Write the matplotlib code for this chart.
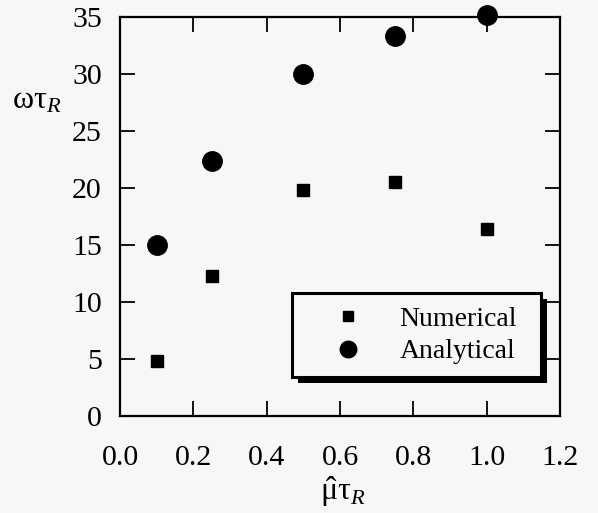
import numpy as np
import matplotlib.pyplot as plt
from matplotlib.patches import Rectangle
from matplotlib.transforms import IdentityTransform

plt.rcParams['font.family'] = ['Liberation Serif', 'DejaVu Serif']
plt.rcParams['mathtext.fontset'] = 'custom'
plt.rcParams['mathtext.rm'] = 'Liberation Serif'
plt.rcParams['mathtext.it'] = 'Liberation Serif:italic'

# data
mu_tau = [0.1, 0.25, 0.5, 0.75, 1.0]
numerical = [4.8, 12.3, 19.8, 20.5, 16.4]
analytical = [15.0, 22.4, 30.0, 33.3, 35.2]

x_ticks = [0.0, 0.2, 0.4, 0.6, 0.8, 1.0, 1.2]
y_ticks = [0, 5, 10, 15, 20, 25, 30, 35]

bg = '#f7f7f7'
fig = plt.figure(figsize=(5.98, 5.13), dpi=100, facecolor=bg)
ax = fig.add_axes([0.2007, 0.189, 0.7358, 0.778], facecolor=bg)

ax.plot(mu_tau, numerical, 's', color='black', markersize=8.5, label='Numerical', clip_on=False, zorder=3)
ax.plot(mu_tau, analytical, 'o', color='black', markersize=14, label='Analytical', clip_on=False, zorder=3)

ax.set_xlim(0, 1.2)
ax.set_ylim(0, 35)
ax.set_xticks(x_ticks)
ax.set_xticklabels(['%.1f' % v for v in x_ticks])
ax.set_yticks(y_ticks)

for s in ax.spines.values():
    s.set_linewidth(1.6)
ax.tick_params(axis='both', direction='in', length=11, width=1.3,
               top=True, right=True, labelsize=21.5)
ax.tick_params(axis='x', pad=21)
ax.tick_params(axis='y', pad=13)

ax.set_ylabel(r'ωτ$_{R}$', fontsize=23, rotation=0, ha='left', va='center')
ax.yaxis.set_label_coords(-0.245, 0.79)
ax.set_xlabel(r'$\hat{\mathrm{\mu}}\mathrm{\tau}_{R}$', fontsize=23, va='center')
ax.xaxis.set_label_coords(0.507, -0.19)

leg = ax.legend(loc='upper left', bbox_to_anchor=(0.391, 0.0, 0.566, 0.308),
                mode='expand', borderaxespad=0,
                fontsize=20, frameon=True, fancybox=False, edgecolor='black',
                handletextpad=0.29, labelspacing=0.26, borderpad=0.47,
                handlelength=3.1, markerscale=0.85)
leg.get_frame().set_linewidth(2.2)
leg.get_frame().set_facecolor(bg)
leg.get_frame().set_alpha(1)

# drop shadow behind the legend box
fig.canvas.draw()
bb = leg.get_frame().get_window_extent()
shadow = Rectangle((bb.x0 + 6, bb.y0 - 6), bb.width, bb.height,
                   transform=IdentityTransform(), facecolor='black',
                   edgecolor='none', zorder=4.5, clip_on=False)
ax.add_artist(shadow)

plt.savefig('out.png', dpi=100, facecolor=bg)
